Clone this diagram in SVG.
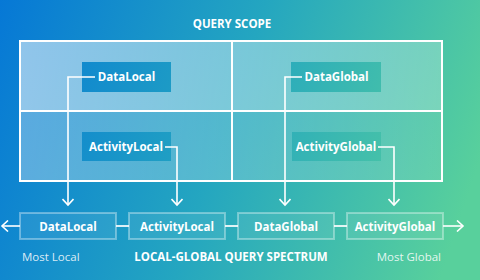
<svg xmlns="http://www.w3.org/2000/svg" width="480" height="280" viewBox="0 0 480 280">
<defs>
<linearGradient id="bg" gradientUnits="userSpaceOnUse" x1="0" y1="0" x2="480" y2="160">
<stop offset="0" stop-color="#0678d6"/>
<stop offset="0.5" stop-color="#24a6c0"/>
<stop offset="1" stop-color="#58d09c"/>
</linearGradient>
<linearGradient id="topRow" gradientUnits="userSpaceOnUse" x1="20" y1="0" x2="442" y2="0">
<stop offset="0" stop-color="#fff" stop-opacity="0.55"/>
<stop offset="1" stop-color="#fff" stop-opacity="0.25"/>
</linearGradient>
<linearGradient id="botRow" gradientUnits="userSpaceOnUse" x1="20" y1="0" x2="442" y2="0">
<stop offset="0" stop-color="#fff" stop-opacity="0.32"/>
<stop offset="1" stop-color="#fff" stop-opacity="0.1"/>
</linearGradient>
<marker id="chev" viewBox="0 0 12 12" refX="10" refY="6" markerWidth="12" markerHeight="12" markerUnits="userSpaceOnUse" orient="auto">
<path d="M4,0.5 L10,6 L4,11.5" fill="none" stroke="#fff" stroke-width="1.6"/>
</marker>
</defs>
<style>
text{font-family:"Open Sans","Noto Sans","Liberation Sans",sans-serif;fill:#fff}
.t{font-size:11.5px;font-weight:bold;text-anchor:middle}
.cap{font-size:11.5px;font-weight:bold;text-anchor:middle}
.sub{font-size:11.5px;fill:#fff;fill-opacity:0.85}
.cellbox{fill:url(#bg)}
.spec{fill:#fff;fill-opacity:0.08;stroke:#fff;stroke-opacity:0.35;stroke-width:2}
.grid{fill:none;stroke:#fff;stroke-width:2}
.conn{fill:none;stroke:#fff;stroke-width:1.6}
.link{fill:none;stroke:#fff;stroke-opacity:0.85;stroke-width:2}
</style>
<rect width="480" height="280" fill="url(#bg)"/>
<text class="cap" x="232" y="28">QUERY SCOPE</text>
<g id="grid">
<rect x="20" y="41" width="422" height="70" fill="url(#topRow)"/>
<rect x="20" y="111" width="422" height="70" fill="url(#botRow)"/>
<rect class="grid" x="20" y="41" width="422" height="140"/>
<line class="grid" x1="232" y1="41" x2="232" y2="181"/>
<line class="grid" x1="20" y1="111" x2="442" y2="111"/>
</g>
<g id="cell-datalocal">
<rect class="cellbox" x="82" y="62" width="89" height="30"/>
<text class="t" x="126.5" y="81">DataLocal</text>
</g>
<g id="cell-dataglobal">
<rect class="cellbox" x="291" y="62" width="90" height="30"/>
<text class="t" x="336.5" y="81">DataGlobal</text>
</g>
<g id="cell-activitylocal">
<rect class="cellbox" x="82" y="132" width="89" height="29"/>
<text class="t" x="126" y="151">ActivityLocal</text>
</g>
<g id="cell-activityglobal">
<rect class="cellbox" x="292" y="132" width="89" height="29"/>
<text class="t" x="336" y="151">ActivityGlobal</text>
</g>
<g id="connectors">
<path class="conn" d="M95,77 H68 V205" marker-end="url(#chev)"/>
<path class="conn" d="M165,147 H177 V205" marker-end="url(#chev)"/>
<path class="conn" d="M302,77 H285 V205" marker-end="url(#chev)"/>
<path class="conn" d="M378,147 H394 V205" marker-end="url(#chev)"/>
<line class="link" x1="116" y1="226" x2="129" y2="226"/>
<line class="link" x1="225" y1="226" x2="238" y2="226"/>
<line class="link" x1="334" y1="226" x2="347" y2="226"/>
<path class="conn" d="M20,226 H2" stroke-width="2" marker-end="url(#chev)"/>
<path class="conn" d="M443,226 H463" stroke-width="2" marker-end="url(#chev)"/>
</g>
<g id="spec-datalocal">
<rect class="spec" x="20" y="213" width="96" height="26"/>
<text class="t" x="68" y="230.5">DataLocal</text>
</g>
<g id="spec-activitylocal">
<rect class="spec" x="129" y="213" width="96" height="26"/>
<text class="t" x="177" y="230.5">ActivityLocal</text>
</g>
<g id="spec-dataglobal">
<rect class="spec" x="238" y="213" width="96" height="26"/>
<text class="t" x="286" y="230.5">DataGlobal</text>
</g>
<g id="spec-activityglobal">
<rect class="spec" x="347" y="213" width="96" height="26"/>
<text class="t" x="395" y="230.5">ActivityGlobal</text>
</g>
<text class="sub" x="22" y="261">Most Local</text>
<text class="cap" x="231" y="261">LOCAL-GLOBAL QUERY SPECTRUM</text>
<text class="sub" x="441" y="261" text-anchor="end">Most Global</text>
</svg>
